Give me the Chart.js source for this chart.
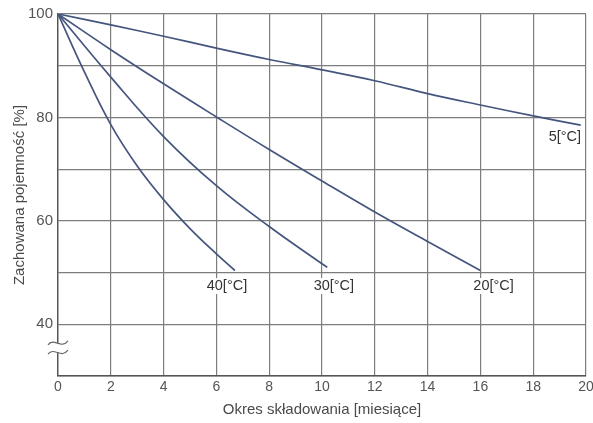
<!DOCTYPE html>
<html>
<head>
<meta charset="utf-8">
<script src="https://cdn.jsdelivr.net/npm/chart.js@4.4.1/dist/chart.umd.min.js"></script>
<style>
  html, body { margin: 0; padding: 0; background: #fff; overflow: hidden; }
  #wrap { width: 600px; height: 423px; }
</style>
</head>
<body>
<div id="wrap"><canvas id="capacityChart" width="600" height="423"></canvas></div>
<script>
// storage time [months] and retained capacity [%] per temperature
const months5 = [0, 2, 4, 6, 8, 10, 12, 14, 16, 18, 19.8]
const capacity5 = [100, 97.9, 95.7, 93.4, 91.2, 89.2, 87.1, 84.6, 82.4, 80.3, 78.5]

const months20 = [0, 2, 4, 6, 8, 10, 12, 14, 16]
const capacity20 = [100, 93.1, 86.5, 80.1, 73.8, 67.7, 61.7, 56.0, 50.4]

const months30 = [0, 2, 4, 6, 8, 10, 10.2]
const capacity30 = [100, 87.8, 76.3, 66.8, 58.9, 51.7, 51.0]

const months40 = [0, 1, 2, 3, 4, 5, 6, 6.7]
const capacity40 = [100, 88.8, 78.6, 70.6, 64.1, 58.5, 53.6, 50.4]

const curveNames = ['5[°C]', '20[°C]', '30[°C]', '40[°C]']
const yTickLabels = [40, 60, 80, 100]

// where the curve names sit, in data units
const nameMonths = [19.2, 16.5, 10.45, 6.4]
const nameCapacity = [76.2, 47.4, 47.4, 47.4]

const lineColor = '#45557e'
const textColor = '#4a4a4a'
const gridColor = '#7d7d7d'
const fontFamily = '"Liberation Sans", Arial, sans-serif'

function toPoints(xs, ys) {
    return xs.map((x, i) => ({ x: x, y: ys[i] }))
}

const curveNamePlugin = {
    id: 'curveNames',
    afterDatasetsDraw(chart) {
        const ctx = chart.ctx
        const xs = chart.scales.x
        const ys = chart.scales.y
        ctx.save()
        ctx.font = '14.5px ' + fontFamily
        ctx.textAlign = 'center'
        ctx.textBaseline = 'middle'
        curveNames.forEach((name, i) => {
            const px = xs.getPixelForValue(nameMonths[i])
            const py = ys.getPixelForValue(nameCapacity[i])
            const w = ctx.measureText(name).width
            ctx.fillStyle = '#fff'
            ctx.fillRect(px - w / 2 - 1, py - 8, w + 2, 16)
            ctx.fillStyle = '#333'
            ctx.fillText(name, px, py)
        })

        // axis break between 40 and the bottom
        const ax = ys.left + ys.width
        const b1 = ys.getPixelForValue(36.4)
        const b2 = ys.getPixelForValue(34.6)
        ctx.fillStyle = '#fff'
        ctx.fillRect(ax - 2, b1, 4, b2 - b1)
        ctx.strokeStyle = '#666'
        ctx.lineWidth = 1.2
        for (const by of [b1, b2]) {
            ctx.beginPath()
            ctx.moveTo(ax - 10, by + 2)
            ctx.bezierCurveTo(ax - 4, by - 6, ax + 3, by + 7, ax + 10, by - 2)
            ctx.stroke()
        }
        ctx.restore()
    }
}

document.addEventListener('DOMContentLoaded', function() {
    const ctx = document.getElementById('capacityChart').getContext('2d')
    const series = [
        [months5, capacity5],
        [months20, capacity20],
        [months30, capacity30],
        [months40, capacity40]
    ]
    new Chart(ctx, {
        type: 'line',
        data: {
            datasets: series.map((s, i) => ({
                label: curveNames[i],
                data: toPoints(s[0], s[1]),
                borderColor: lineColor,
                borderWidth: 1.7,
                pointRadius: 0,
                fill: false,
                tension: 0.4
            }))
        },
        options: {
            responsive: false,
            animation: false,
            layout: { padding: { top: 14, right: 14, left: 0, bottom: 0 } },
            plugins: {
                legend: { display: false },
                tooltip: { enabled: false }
            },
            scales: {
                x: {
                    type: 'linear',
                    min: 0,
                    max: 20,
                    afterFit: s => { s.height = 47 },
                    ticks: {
                        stepSize: 2,
                        color: '#555',
                        padding: 3,
                        maxRotation: 0,
                        font: { family: fontFamily, size: 14 }
                    },
                    grid: { color: gridColor, lineWidth: 1.2, drawTicks: false },
                    border: { color: '#555', width: 1.4 },
                    title: {
                        display: true,
                        text: 'Okres składowania [miesiące]',
                        color: textColor,
                        font: { family: fontFamily, size: 15 },
                        padding: { top: 2, bottom: 4 }
                    }
                },
                y: {
                    min: 30,
                    max: 100,
                    afterFit: s => { s.width = 58 },
                    ticks: {
                        stepSize: 10,
                        color: '#555',
                        padding: 5,
                        font: { family: fontFamily, size: 15 },
                        callback: v => yTickLabels.includes(v) ? v : ''
                    },
                    grid: { color: gridColor, lineWidth: 1.2, drawTicks: false },
                    border: { color: '#555', width: 1.4 },
                    title: {
                        display: true,
                        text: 'Zachowana pojemność [%]',
                        color: textColor,
                        font: { family: fontFamily, size: 15 },
                        padding: { top: 11, bottom: 0 }
                    }
                }
            }
        },
        plugins: [curveNamePlugin]
    })
})
</script>
</body>
</html>
